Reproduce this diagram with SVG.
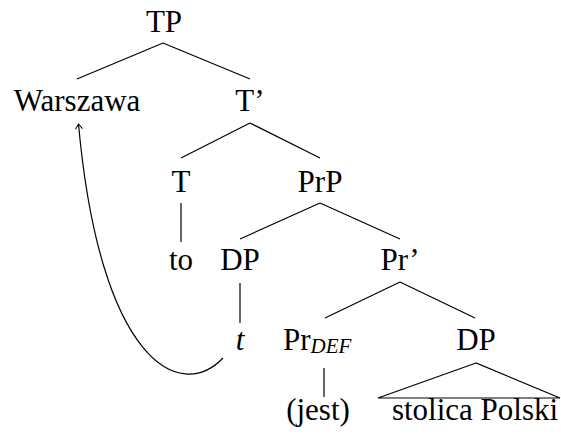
<svg xmlns="http://www.w3.org/2000/svg" width="561" height="438" viewBox="0 0 561 438">
<style>
text{font-family:'Liberation Serif','Times New Roman',serif;font-size:31px;fill:#000}
.c{text-anchor:middle}
.conn line,.conn path,polygon{stroke:#000;stroke-width:1.2;fill:none}
</style>
<defs>
<marker id="ah" viewBox="-6 -5 8 10" markerWidth="8" markerHeight="10" refX="0" refY="0" orient="auto" markerUnits="userSpaceOnUse">
<path d="M-5,-3.5 Q-1.5,-1 0,0 Q-1.5,1 -5,3.5" stroke="#000" stroke-width="1" fill="none"/>
</marker>
</defs>
<rect width="561" height="438" fill="#fff"/>
<g id="connectors" class="conn">
<line x1="163" y1="43" x2="77" y2="79"/>
<line x1="163" y1="43" x2="250" y2="79"/>
<line x1="250" y1="123" x2="181" y2="158"/>
<line x1="250" y1="123" x2="320" y2="158"/>
<line x1="181" y1="203" x2="181" y2="242"/>
<line x1="320" y1="203" x2="240" y2="239"/>
<line x1="320" y1="203" x2="400" y2="239"/>
<line x1="240" y1="283" x2="240" y2="323"/>
<line x1="400" y1="282" x2="325" y2="318"/>
<line x1="400" y1="282" x2="475" y2="318"/>
<line x1="324" y1="368" x2="324" y2="397"/>
<path d="M223,358 C180,403 100,362 78.5,124" marker-end="url(#ah)"/>
</g>
<g id="n-TP"><text class="c" font-family="Liberation Serif" x="164" y="32">TP</text></g>
<g id="n-Warszawa"><text class="c" font-family="Liberation Serif" x="77" y="111">Warszawa</text></g>
<g id="n-Tbar"><text class="c" font-family="Liberation Serif" x="250" y="111">T&#8217;</text></g>
<g id="n-T"><text class="c" font-family="Liberation Serif" x="181" y="192">T</text></g>
<g id="n-PrP"><text class="c" font-family="Liberation Serif" x="320" y="192">PrP</text></g>
<g id="n-to"><text class="c" font-family="Liberation Serif" x="181" y="270">to</text></g>
<g id="n-DP1"><text class="c" font-family="Liberation Serif" x="240" y="270">DP</text></g>
<g id="n-Prbar"><text class="c" font-family="Liberation Serif" x="400" y="270">Pr&#8217;</text></g>
<g id="n-t"><text class="c" font-family="Liberation Serif" font-style="italic" x="240" y="350">t</text></g>
<g id="n-PrDEF"><text font-family="Liberation Serif" x="283" y="350">Pr<tspan font-size="21" font-style="italic" dy="3">DEF</tspan></text></g>
<g id="n-DP2"><text class="c" font-family="Liberation Serif" x="476" y="350">DP</text></g>
<g id="n-jest"><text class="c" font-family="Liberation Serif" x="318" y="420">(jest)</text></g>
<g id="n-stolica">
<polygon points="476,363 378,398 560,398"/>
<text class="c" font-family="Liberation Serif" x="475" y="420">stolica Polski</text>
</g>
</svg>
